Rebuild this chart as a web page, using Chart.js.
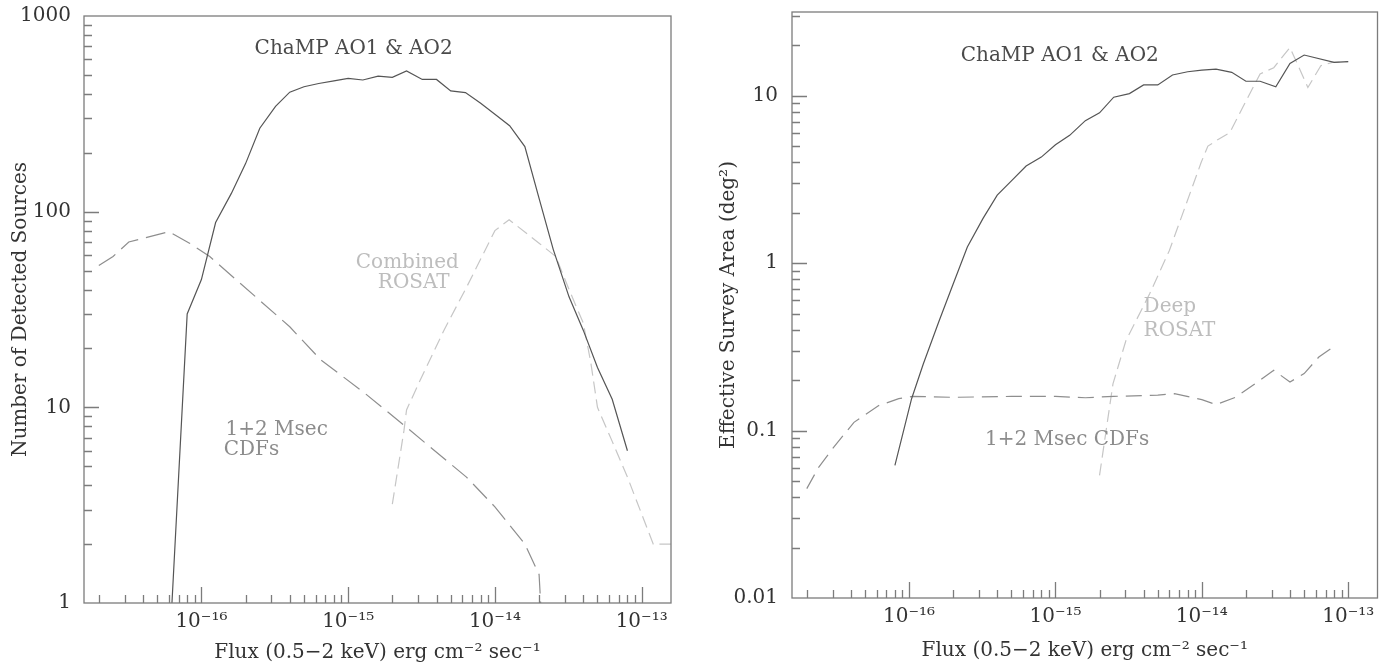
<!DOCTYPE html>
<html><head><meta charset="utf-8">
<script src="https://cdn.jsdelivr.net/npm/chart.js@4.4.1/dist/chart.umd.min.js"></script>
<style>
html,body{margin:0;padding:0;background:#fff;}
#wrap{position:relative;width:1390px;height:668px;overflow:hidden;background:#fff;}
canvas{position:absolute;top:0;}
#c1{left:0;} #c2{left:695px;}
</style></head><body>
<div id="wrap"><canvas id="c1" width="695" height="668"></canvas><canvas id="c2" width="695" height="668"></canvas></div>
<script>
// ---- tick labels ----
const fluxTickValues = [1e-16, 1e-15, 1e-14, 1e-13];
const fluxTickLabels = ['10⁻¹⁶', '10⁻¹⁵', '10⁻¹⁴', '10⁻¹³'];
const countTickValues = [1, 10, 100, 1000];
const countTickLabels = ['1', '10', '100', '1000'];
const areaTickValues = [0.01, 0.1, 1, 10];
const areaTickLabels = ['0.01', '0.1', '1', '10'];

// ---- left panel: number of detected sources ----
const champCountFlux = [6.3e-17, 8e-17, 1e-16, 1.25e-16, 1.6e-16, 2e-16, 2.5e-16, 3.2e-16, 4e-16, 5e-16, 6.3e-16, 8e-16, 1e-15, 1.26e-15, 1.6e-15, 2e-15, 2.5e-15, 3.2e-15, 4e-15, 5e-15, 6.3e-15, 8e-15, 1e-14, 1.26e-14, 1.6e-14, 2e-14, 2.5e-14, 3.2e-14, 4e-14, 5e-14, 6.3e-14, 8e-14];
const champCount = [1, 30, 45, 88, 124, 176, 267, 345, 408, 435, 452, 466, 480, 471, 493, 486, 524, 474, 474, 414, 406, 358, 315, 275, 215, 117, 64, 36.7, 24.8, 16, 11, 6];
const cdfCountFlux = [2e-17, 2.5e-17, 3.2e-17, 6e-17, 8.3e-17, 1.14e-16, 4e-16, 6.5e-16, 1.3e-15, 2.5e-15, 6.4e-15, 1e-14, 1.6e-14, 2e-14, 2.05e-14];
const cdfCount = [53, 59, 70, 79, 69, 59, 25.8, 17.5, 11.8, 7.9, 4.4, 3.1, 2.0, 1.4, 1];
const rosatCountFlux = [2e-15, 2.4e-15, 2.5e-15, 3.1e-15, 4.5e-15, 6.4e-15, 1e-14, 1.25e-14, 2e-14, 2.6e-14, 3.2e-14, 4e-14, 4.5e-14, 5e-14, 6.3e-14, 8e-14, 1.2e-13, 1.6e-13];
const rosatCount = [3.2, 7.6, 9.7, 13.8, 24.8, 41, 80, 91, 69, 59, 40, 27, 17, 10, 6.7, 4.4, 2, 2];

// ---- right panel: effective survey area ----
const champAreaFlux = [8e-17, 1.04e-16, 1.25e-16, 1.6e-16, 2e-16, 2.5e-16, 3.2e-16, 4e-16, 5e-16, 6.3e-16, 8e-16, 1e-15, 1.25e-15, 1.6e-15, 2e-15, 2.5e-15, 3.2e-15, 4e-15, 5e-15, 6.3e-15, 8e-15, 1e-14, 1.25e-14, 1.6e-14, 2e-14, 2.5e-14, 3.2e-14, 4e-14, 5e-14, 8e-14, 1e-13];
const champArea = [0.062, 0.155, 0.25, 0.45, 0.75, 1.25, 1.85, 2.55, 3.1, 3.8, 4.3, 5.1, 5.8, 7.1, 7.9, 9.8, 10.3, 11.6, 11.6, 13.3, 13.9, 14.2, 14.4, 13.8, 12.2, 12.2, 11.3, 15.6, 17.5, 15.8, 16.0];
const cdfAreaFlux = [2e-17, 2.4e-17, 3e-17, 4.2e-17, 6.2e-17, 8.5e-17, 1.05e-16, 2e-16, 5e-16, 1e-15, 1.6e-15, 2.5e-15, 5e-15, 6.5e-15, 1e-14, 1.25e-14, 1.7e-14, 2.5e-14, 3.1e-14, 4e-14, 5e-14, 6.3e-14, 8e-14];
const cdfArea = [0.045, 0.06, 0.078, 0.112, 0.141, 0.155, 0.16, 0.158, 0.16, 0.16, 0.157, 0.16, 0.163, 0.166, 0.153, 0.143, 0.158, 0.2, 0.229, 0.195, 0.219, 0.275, 0.318];
const rosatAreaFlux = [2e-15, 2.47e-15, 3.03e-15, 4.4e-15, 6e-15, 9.9e-15, 1.1e-14, 1.3e-14, 1.55e-14, 1.9e-14, 2.5e-14, 3.1e-14, 4e-14, 5.3e-14, 6.5e-14, 7.8e-14, 1e-13];
const rosatArea = [0.054, 0.19, 0.345, 0.656, 1.19, 4.0, 5.0, 5.5, 6.0, 8.5, 13.5, 14.7, 19.4, 11.2, 15.1, 15.8, 16.0];

const FONT = 'DejaVu Serif';
const C_CHAMP = '#555555', C_CDF = '#8e8e8e', C_ROSAT = '#c6c6c6';

const pts = (xs, ys) => xs.map((x, i) => ({x: x, y: ys[i]}));

function frameTicksPlugin(notes) {
  return {
    id: 'frameTicks',
    afterDraw(chart) {
      const {ctx, chartArea: a} = chart;
      const xs = chart.scales.x, ys = chart.scales.y;
      ctx.save();
      ctx.strokeStyle = '#7c7c7c';
      ctx.lineWidth = 1.3;
      ctx.strokeRect(a.left, a.top, a.right - a.left, a.bottom - a.top);
      ctx.beginPath();
      for (let d = -18; d <= -12; d++) for (let m = 1; m <= 9; m++) {
        const v = m * Math.pow(10, d);
        if (v <= xs.min * 1.0001 || v >= xs.max * 0.9999) continue;
        const px = Math.round(xs.getPixelForValue(v)) + 0.5;
        const L = m === 1 ? 16 : 8;
        ctx.moveTo(px, a.bottom); ctx.lineTo(px, a.bottom - L);
      }
      for (let d = -3; d <= 3; d++) for (let m = 1; m <= 9; m++) {
        const v = m * Math.pow(10, d);
        if (v <= ys.min * 1.0001 || v >= ys.max * 0.9999) continue;
        const py = Math.round(ys.getPixelForValue(v)) + 0.5;
        const L = m === 1 ? 15 : 8;
        ctx.moveTo(a.left, py); ctx.lineTo(a.left + L, py);
      }
      ctx.stroke();
      ctx.font = '20px "' + FONT + '"';
      ctx.textBaseline = 'middle';
      notes.forEach(n => {
        ctx.fillStyle = n.color;
        ctx.textAlign = n.align;
        ctx.fillText(n.text, xs.getPixelForValue(n.x), ys.getPixelForValue(n.y));
      });
      ctx.restore();
    }
  };
}

function makeChart(id, cfg) {
  const tickFont = {family: FONT, size: 20};
  return new Chart(document.getElementById(id), {
    type: 'line',
    data: {datasets: cfg.datasets},
    options: {
      responsive: false, animation: false, devicePixelRatio: 1,
      layout: {padding: cfg.padding},
      plugins: {legend: {display: false}, tooltip: {enabled: false}},
      elements: {point: {radius: 0}, line: {tension: 0, borderWidth: 1.2, fill: false}},
      scales: {
        x: {
          type: 'logarithmic', min: Math.pow(10, -16.8), max: Math.pow(10, -12.8), bounds: 'data',
          grid: {display: false, drawTicks: false}, border: {display: false},
          afterBuildTicks: s => { s.ticks = fluxTickValues.map(v => ({value: v})); },
          afterFit: s => { s.height = cfg.xHeight; s.paddingLeft = 0; s.paddingRight = 0; s.paddingTop = 0; s.paddingBottom = 0; },
          ticks: {autoSkip: false, maxRotation: 0, minRotation: 0, padding: 7, color: '#333', font: tickFont,
                  callback: (v, i) => fluxTickLabels[i]},
          title: {display: true, text: 'Flux (0.5−2 keV) erg cm⁻² sec⁻¹', color: '#333', font: tickFont, padding: {top: 0, bottom: cfg.xTitlePad}}
        },
        y: {
          type: 'logarithmic', min: cfg.yMin, max: cfg.yMax, bounds: 'data',
          grid: {display: false, drawTicks: false}, border: {display: false},
          afterBuildTicks: s => { s.ticks = cfg.yTickValues.map(v => ({value: v})); },
          afterFit: s => { s.width = cfg.yWidth; s.paddingTop = 0; s.paddingBottom = 0; s.paddingLeft = 0; s.paddingRight = 0; },
          ticks: {autoSkip: false, padding: cfg.yTickPad, color: '#333', font: tickFont,
                  callback: (v, i) => cfg.yTickLabels[i]},
          title: {display: true, text: cfg.yTitle, color: '#333', font: tickFont, padding: {top: cfg.yTitlePad, bottom: 0}}
        }
      }
    },
    plugins: [frameTicksPlugin(cfg.notes)]
  });
}

makeChart('c1', {
  padding: {left: 0, right: 24, top: 16, bottom: 0},
  xHeight: 65, yWidth: 84, yTickPad: 13, yTitlePad: 9, xTitlePad: 3,
  yMin: 1, yMax: 1000, yTickValues: countTickValues, yTickLabels: countTickLabels,
  yTitle: 'Number of Detected Sources',
  datasets: [
    {data: pts(champCountFlux, champCount), borderColor: C_CHAMP, order: 0},
    {data: pts(cdfCountFlux, cdfCount), borderColor: C_CDF, borderDash: [20, 8], order: 1},
    {data: pts(rosatCountFlux, rosatCount), borderColor: C_ROSAT, borderDash: [12, 6], order: 2}
  ],
  notes: [
    {text: 'ChaMP AO1 & AO2', x: 1.09e-15, y: 682, align: 'center', color: '#4a4a4a'},
    {text: 'Combined', x: 2.53e-15, y: 54.6, align: 'center', color: '#bdbdbd'},
    {text: 'ROSAT', x: 2.8e-15, y: 43.2, align: 'center', color: '#bdbdbd'},
    {text: '1+2 Msec', x: 1.46e-16, y: 7.64, align: 'left', color: '#8c8c8c'},
    {text: 'CDFs', x: 1.42e-16, y: 6.04, align: 'left', color: '#8c8c8c'}
  ]
});

makeChart('c2', {
  padding: {left: 0, right: 12.5, top: 12, bottom: 0},
  xHeight: 70, yWidth: 97, yTickPad: 14, yTitlePad: 22, xTitlePad: 5,
  yMin: 0.01, yMax: Math.pow(10, 1.5), yTickValues: areaTickValues, yTickLabels: areaTickLabels,
  yTitle: 'Effective Survey Area (deg²)',
  datasets: [
    {data: pts(champAreaFlux, champArea), borderColor: C_CHAMP, order: 0},
    {data: pts(cdfAreaFlux, cdfArea), borderColor: C_CDF, borderDash: [16, 8], order: 1},
    {data: pts(rosatAreaFlux, rosatArea), borderColor: C_ROSAT, borderDash: [12, 6], order: 2}
  ],
  notes: [
    {text: 'ChaMP AO1 & AO2', x: 1.07e-15, y: 17.2, align: 'center', color: '#4a4a4a'},
    {text: 'Deep', x: 4.0e-15, y: 0.547, align: 'left', color: '#bdbdbd'},
    {text: 'ROSAT', x: 4.0e-15, y: 0.394, align: 'left', color: '#bdbdbd'},
    {text: '1+2 Msec CDFs', x: 3.3e-16, y: 0.0875, align: 'left', color: '#8c8c8c'}
  ]
});
</script>
</body></html>
